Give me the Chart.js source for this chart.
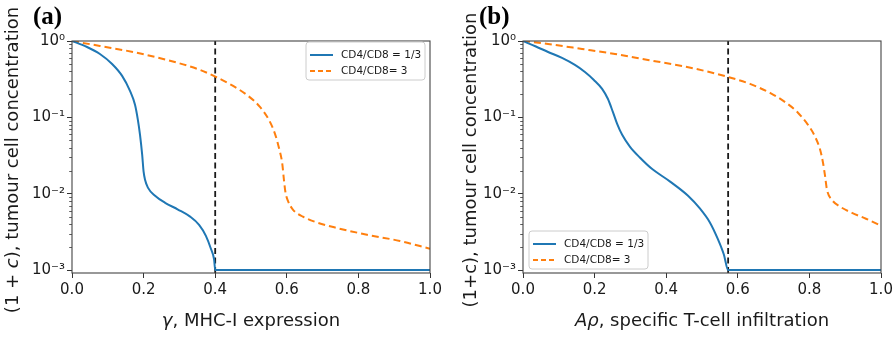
<!DOCTYPE html>
<html><head><meta charset="utf-8">
<script src="https://cdn.jsdelivr.net/npm/chart.js@4"></script>
<style>
html,body{margin:0;padding:0;background:#fff;}
#wrap{position:relative;width:896px;height:337px;overflow:hidden;background:#fff;}
canvas{position:absolute;top:0;}
</style></head><body>
<div id="wrap">
<canvas id="ca" width="448" height="337" style="left:0px"></canvas>
<canvas id="cb" width="448" height="337" style="left:448px"></canvas>
</div>
<script>
// ---- data ----
const xTicks = [0, 0.2, 0.4, 0.6, 0.8, 1.0];
const yTicks = [0.001, 0.01, 0.1, 1];
const yTickLabels = ['10\u207B\u00B3', '10\u207B\u00B2', '10\u207B\u00B9', '10\u2070'];
const seriesNames = ['CD4/CD8 = 1/3', 'CD4/CD8= 3'];
const yMin = 0.000914, yMax = 1;

// panel (a): gamma, MHC-I expression
const aBlueX = [0, 0.042, 0.078, 0.112, 0.140, 0.162, 0.176, 0.184, 0.190, 0.196, 0.200, 0.204, 0.212, 0.232, 0.260, 0.296, 0.330, 0.355, 0.374, 0.388, 0.397, 0.4, 1.0];
const aBlueY = [1, 0.835, 0.676, 0.50, 0.349, 0.222, 0.146, 0.0927, 0.059, 0.0324, 0.0194, 0.0152, 0.012, 0.0094, 0.0076, 0.0062, 0.0050, 0.0039, 0.0028, 0.0019, 0.00137, 0.001, 0.001];
const aOrangeX = [0, 0.078, 0.170, 0.265, 0.358, 0.402, 0.450, 0.492, 0.525, 0.550, 0.567, 0.578, 0.587, 0.592, 0.596, 0.603, 0.617, 0.645, 0.684, 0.735, 0.824, 0.916, 1.0];
const aOrangeY = [1, 0.861, 0.718, 0.565, 0.418, 0.338, 0.258, 0.191, 0.137, 0.0927, 0.0608, 0.0399, 0.0254, 0.0152, 0.0106, 0.0081, 0.0062, 0.0050, 0.0042, 0.0036, 0.0029, 0.0024, 0.0019];
const aThreshold = 0.4;

// panel (b): A rho, specific T-cell infiltration
const bBlueX = [0, 0.036, 0.070, 0.109, 0.145, 0.173, 0.198, 0.221, 0.237, 0.251, 0.263, 0.277, 0.299, 0.327, 0.360, 0.411, 0.461, 0.494, 0.522, 0.545, 0.561, 0.573, 1.0];
const bBlueY = [1, 0.848, 0.718, 0.600, 0.486, 0.393, 0.309, 0.236, 0.175, 0.118, 0.0822, 0.059, 0.0411, 0.0296, 0.0212, 0.0144, 0.0094, 0.0064, 0.0042, 0.0025, 0.0016, 0.001, 0.001];
const bOrangeX = [0, 0.070, 0.165, 0.257, 0.349, 0.444, 0.508, 0.573, 0.634, 0.690, 0.735, 0.768, 0.796, 0.816, 0.830, 0.838, 0.844, 0.849, 0.863, 0.885, 0.919, 0.958, 1.0];
const bOrangeY = [1, 0.914, 0.786, 0.676, 0.565, 0.471, 0.405, 0.338, 0.274, 0.209, 0.155, 0.115, 0.0798, 0.0556, 0.0376, 0.0254, 0.0167, 0.0113, 0.0083, 0.0068, 0.0056, 0.0047, 0.0038];
const bThreshold = 0.573;

// ---- styling ----
const BLUE = '#1f77b4', ORANGE = '#ff7f0e', TXT = '#1a1a1a';
const FONT = '"DejaVu Sans", sans-serif';

function pts(xs, ys) { return xs.map((x, i) => ({x: x, y: ys[i]})); }

function drawRich(ctx, segs, x, y, rot, size) {
  ctx.save();
  ctx.translate(x, y);
  ctx.rotate(rot);
  let total = 0;
  const ws = segs.map(s => {
    ctx.font = (s.i ? 'italic ' : '') + size + 'px ' + FONT;
    const w = ctx.measureText(s.t).width; total += w; return w;
  });
  let cx = -total / 2;
  ctx.textBaseline = 'middle'; ctx.textAlign = 'left'; ctx.fillStyle = TXT;
  segs.forEach((s, k) => {
    ctx.font = (s.i ? 'italic ' : '') + size + 'px ' + FONT;
    ctx.fillText(s.t, cx, 0); cx += ws[k];
  });
  ctx.restore();
}

function drawLegend(ctx, bx, by, bw, bh, rows) {
  ctx.save();
  const r = 3;
  ctx.beginPath();
  ctx.moveTo(bx + r, by); ctx.lineTo(bx + bw - r, by); ctx.quadraticCurveTo(bx + bw, by, bx + bw, by + r);
  ctx.lineTo(bx + bw, by + bh - r); ctx.quadraticCurveTo(bx + bw, by + bh, bx + bw - r, by + bh);
  ctx.lineTo(bx + r, by + bh); ctx.quadraticCurveTo(bx, by + bh, bx, by + bh - r);
  ctx.lineTo(bx, by + r); ctx.quadraticCurveTo(bx, by, bx + r, by);
  ctx.closePath();
  ctx.fillStyle = 'rgba(255,255,255,0.85)'; ctx.fill();
  ctx.strokeStyle = '#cccccc'; ctx.lineWidth = 1; ctx.stroke();
  rows.forEach((rw, k) => {
    const yy = by + 13 + k * 16;
    ctx.beginPath(); ctx.setLineDash(rw.dash || []);
    ctx.strokeStyle = rw.color; ctx.lineWidth = 2;
    ctx.moveTo(bx + 4, yy); ctx.lineTo(bx + 27, yy); ctx.stroke();
    ctx.setLineDash([]);
    ctx.fillStyle = TXT; ctx.font = '10.5px ' + FONT; ctx.textBaseline = 'middle'; ctx.textAlign = 'left';
    ctx.fillText(rw.label, bx + 35, yy);
  });
  ctx.restore();
}

const decorPlugin = {
  id: 'decor',
  afterDatasetsDraw(chart) {
    const ctx = chart.ctx, ca = chart.chartArea, ys = chart.scales.y;
    ctx.save();
    // minor log ticks
    ctx.strokeStyle = '#333'; ctx.lineWidth = 0.8;
    for (let k = -3; k < 0; k++) {
      for (let m = 2; m <= 9; m++) {
        const v = m * Math.pow(10, k);
        if (v < yMin || v > yMax) continue;
        const py = Math.round(ys.getPixelForValue(v)) + 0.5;
        ctx.beginPath(); ctx.moveTo(ca.left - 2.8, py); ctx.lineTo(ca.left, py); ctx.stroke();
      }
    }
    // frame
    ctx.strokeStyle = '#444'; ctx.lineWidth = 1.1;
    ctx.strokeRect(ca.left, ca.top, ca.right - ca.left, ca.bottom - ca.top);
    ctx.restore();
  },
  afterDraw(chart) {
    const o = chart.options.plugins.decor;
    const ctx = chart.ctx, ca = chart.chartArea;
    const cx = (ca.left + ca.right) / 2;
    drawRich(ctx, o.xTitle, cx, 321, 0, 18);
    drawRich(ctx, o.yTitle, o.yTitleX, 160, -Math.PI / 2, 18);
    ctx.save();
    ctx.font = 'bold 25px "Liberation Serif", serif';
    ctx.fillStyle = '#000'; ctx.textBaseline = 'alphabetic'; ctx.textAlign = 'left';
    ctx.fillText(o.panel, o.panelX, 24);
    ctx.restore();
    const rows = [
      {label: seriesNames[0], color: BLUE},
      {label: seriesNames[1], color: ORANGE, dash: [5, 3]}
    ];
    const bw = 119, bh = 38;
    let bx, by;
    if (o.legendPos === 'upper right') { bx = ca.right - 5 - bw; by = ca.top + 1; }
    else { bx = ca.left + 6; by = ca.bottom - 4 - bh; }
    drawLegend(ctx, bx, by, bw, bh, rows);
  }
};

function build(id, blueX, blueY, orX, orY, th, yWidth, padRight, decor) {
  return new Chart(document.getElementById(id), {
    type: 'line',
    data: {
      datasets: [
        {label: seriesNames[0], data: pts(blueX, blueY), borderColor: BLUE, borderWidth: 2, pointRadius: 0, cubicInterpolationMode: 'monotone', fill: false},
        {label: seriesNames[1], data: pts(orX, orY), borderColor: ORANGE, borderWidth: 2, borderDash: [7, 4], pointRadius: 0, cubicInterpolationMode: 'monotone', fill: false},
        {label: 'threshold', data: [{x: th, y: yMin}, {x: th, y: yMax}], borderColor: '#1a1a1a', borderWidth: 1.8, borderDash: [6, 3.5], pointRadius: 0, fill: false}
      ]
    },
    options: {
      responsive: false, animation: false, devicePixelRatio: 1,
      layout: {padding: {top: 41, right: padRight, left: 0, bottom: 0}},
      plugins: {legend: {display: false}, tooltip: {enabled: false}, decor: decor},
      scales: {
        x: {
          type: 'linear', min: 0, max: 1,
          afterBuildTicks: s => { s.ticks = xTicks.map(v => ({value: v})); },
          afterFit: s => { s.height = 64; },
          ticks: {callback: v => v.toFixed(1), font: {family: FONT, size: 15}, color: TXT, padding: 3, maxRotation: 0, autoSkip: false},
          grid: {display: true, drawOnChartArea: false, drawTicks: true, tickLength: 5, color: '#333'},
          border: {display: false}
        },
        y: {
          type: 'logarithmic', min: yMin, max: yMax,
          afterBuildTicks: s => { s.ticks = yTicks.map(v => ({value: v})); },
          afterFit: s => { s.width = yWidth; },
          ticks: {callback: (v, i) => yTickLabels[i], font: {family: FONT, size: 15}, color: TXT, padding: 2, autoSkip: false},
          grid: {display: true, drawOnChartArea: false, drawTicks: true, tickLength: 5, color: '#333'},
          border: {display: false}
        }
      }
    },
    plugins: [decorPlugin]
  });
}

build('ca', aBlueX, aBlueY, aOrangeX, aOrangeY, aThreshold, 72, 18, {
  xTitle: [{t: '\u03B3', i: true}, {t: ', MHC-I expression'}],
  yTitle: [{t: '(1 + '}, {t: 'c', i: true}, {t: '), tumour cell concentration'}],
  yTitleX: 13, panel: '(a)', panelX: 33, legendPos: 'upper right'
});
build('cb', bBlueX, bBlueY, bOrangeX, bOrangeY, bThreshold, 75, 15, {
  xTitle: [{t: 'A\u03C1', i: true}, {t: ', specific T-cell infiltration'}],
  yTitle: [{t: '(1+c), tumour cell concentration'}],
  yTitleX: 23, panel: '(b)', panelX: 31, legendPos: 'lower left'
});
</script>
</body></html>
